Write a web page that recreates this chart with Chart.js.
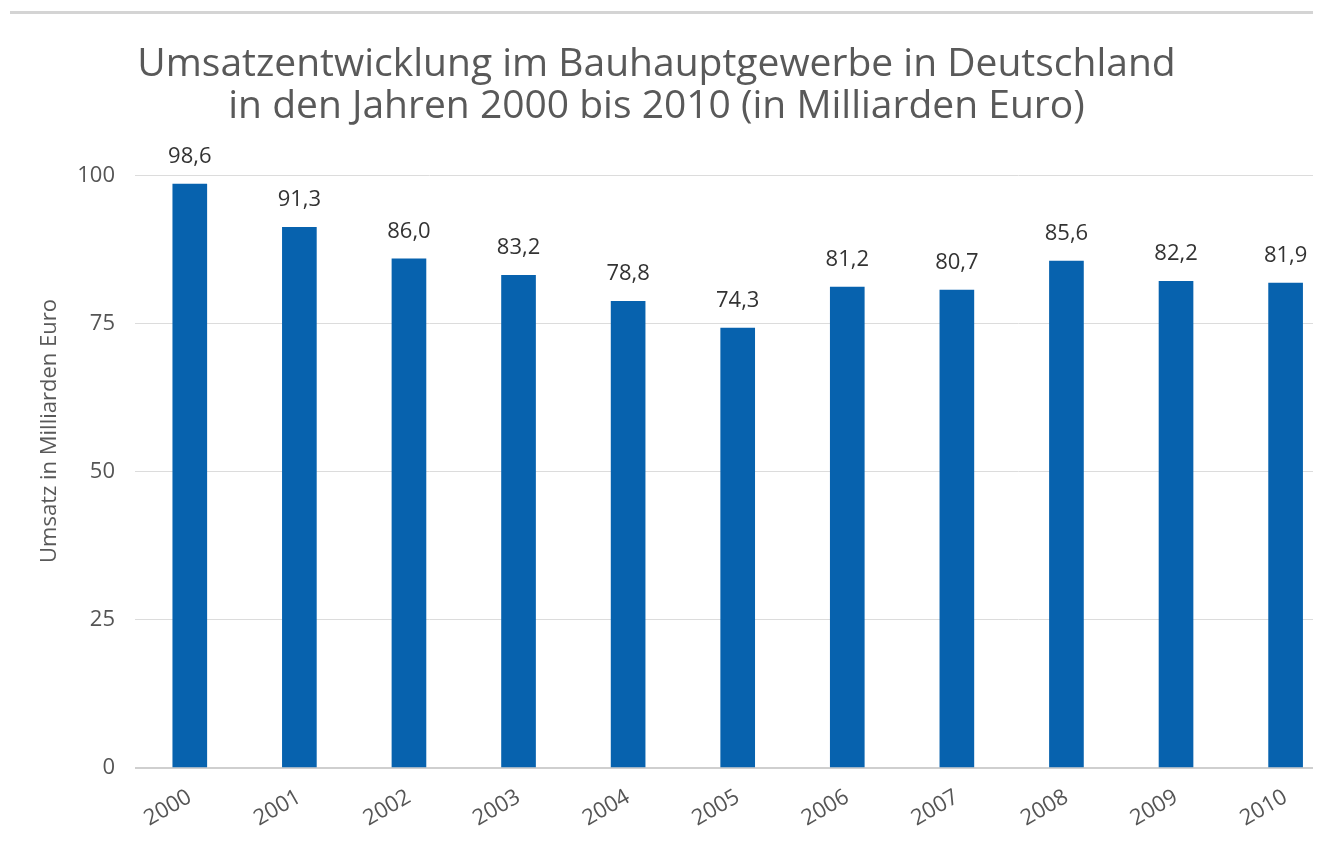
<!DOCTYPE html>
<html>
<head>
<meta charset="utf-8">
<script src="https://cdn.jsdelivr.net/npm/chart.js@4.4.1/dist/chart.umd.min.js"></script>
<style>
  html, body { margin: 0; padding: 0; background: #ffffff; overflow: hidden; }
  #c { display: block; }
</style>
</head>
<body>
<canvas id="c" width="1334" height="843"></canvas>
<script>
const years = ['2000','2001','2002','2003','2004','2005','2006','2007','2008','2009','2010'];
const revenue = [98.6, 91.3, 86.0, 83.2, 78.8, 74.3, 81.2, 80.7, 85.6, 82.2, 81.9];
const yTicks = [0, 25, 50, 75, 100];
const titleLines = ['Umsatzentwicklung im Bauhauptgewerbe in Deutschland', 'in den Jahren 2000 bis 2010 (in Milliarden Euro)'];
const yAxisTitle = 'Umsatz in Milliarden Euro';

const FONT = "'Open Sans', 'Noto Sans', sans-serif";
const fmt = v => v.toFixed(1).replace('.', ',');

const decor = {
  id: 'decor',
  beforeDraw(chart) {
    const ctx = chart.ctx;
    ctx.save();
    ctx.fillStyle = '#d4d4d4';
    ctx.fillRect(10, 11, 1303, 3);
    ctx.restore();
  },
  afterDatasetsDraw(chart) {
    const ctx = chart.ctx;
    const meta = chart.getDatasetMeta(0);
    ctx.save();
    ctx.font = '22px ' + FONT;
    ctx.fillStyle = '#333333';
    ctx.textAlign = 'center';
    ctx.textBaseline = 'alphabetic';
    meta.data.forEach((bar, i) => {
      ctx.fillText(fmt(revenue[i]), bar.x, bar.y - 21);
    });
    // y-axis title
    ctx.translate(50, 431);
    ctx.rotate(-Math.PI / 2);
    ctx.font = '22px ' + FONT;
    ctx.fillStyle = '#595959';
    ctx.textBaseline = 'middle';
    ctx.fillText(yAxisTitle, 0, 0);
    ctx.restore();
  }
};

new Chart(document.getElementById('c'), {
  type: 'bar',
  data: {
    datasets: [{
      data: revenue.map((v, i) => ({ x: i, y: v })),
      backgroundColor: '#0762ae',
      borderWidth: 0,
      barThickness: 34
    }]
  },
  options: {
    responsive: false,
    animation: false,
    devicePixelRatio: 1,
    layout: { padding: { top: 0, right: 21, bottom: 0, left: 0 } },
    plugins: {
      legend: { display: false },
      tooltip: { enabled: false },
      title: {
        display: true,
        text: titleLines,
        color: '#595959',
        font: { family: FONT, size: 39, weight: 'normal', lineHeight: 1.1 },
        padding: { top: 43, bottom: 47 }
      }
    },
    scales: {
      x: {
        type: 'linear',
        offset: false,
        min: -0.5,
        max: 10.25,
        grid: { display: false },
        border: { display: false },
        afterFit(s) { s.height = 75; },
        afterBuildTicks(s) { s.ticks = years.map((y, i) => ({ value: i })); },
        ticks: {
          autoSkip: false,
          includeBounds: false,
          minRotation: 30,
          maxRotation: 30,
          padding: 8,
          color: '#555555',
          font: { family: FONT, size: 22 },
          callback: v => years[v]
        }
      },
      y: {
        min: 0,
        max: 100,
        afterFit(s) { s.width = 135; },
        afterBuildTicks(s) { s.ticks = yTicks.map(v => ({ value: v })); },
        border: { display: false },
        grid: {
          drawTicks: false,
          color: ctx => ctx.tick && ctx.tick.value === 0 ? '#cfcfcf' : '#dcdcdc',
          lineWidth: ctx => ctx.tick && ctx.tick.value === 0 ? 2 : 1
        },
        ticks: {
          padding: 20,
          color: '#555555',
          font: { family: FONT, size: 22 }
        }
      }
    }
  },
  plugins: [decor]
});
</script>
</body>
</html>
